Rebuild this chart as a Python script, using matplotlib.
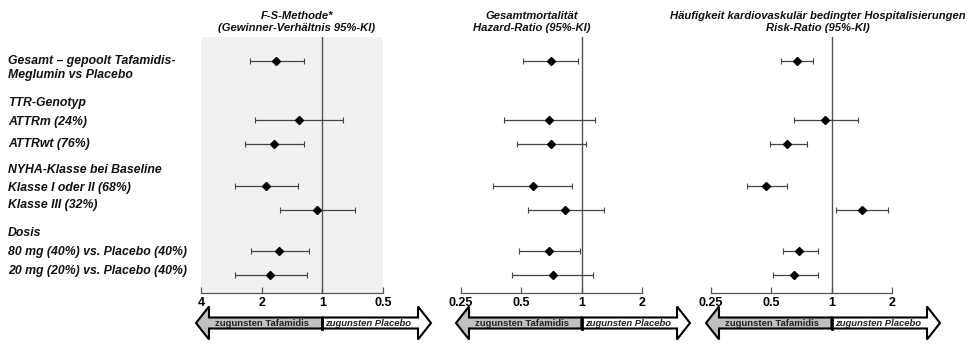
"""Forest plot: Tafamidis subgroup analysis, three panels (win ratio, HR, RR)."""
import matplotlib
matplotlib.use("Agg")
import matplotlib.pyplot as plt
from matplotlib.patches import Polygon

plt.rcParams["font.family"] = ["Liberation Sans", "DejaVu Sans"]

# --- data -----------------------------------------------------------------
row_labels = [
    "Gesamt \u2013 gepoolt Tafamidis-\nMeglumin vs Placebo",
    "ATTRm (24%)",
    "ATTRwt (76%)",
    "Klasse I oder II (68%)",
    "Klasse III (32%)",
    "80 mg (40%) vs. Placebo (40%)",
    "20 mg (20%) vs. Placebo (40%)",
]
group_headers = ["TTR-Genotyp", "NYHA-Klasse bei Baseline", "Dosis"]

fs_est = [1.70, 1.30, 1.73, 1.90, 1.06, 1.64, 1.81]
fs_lo = [1.24, 0.79, 1.24, 1.32, 0.69, 1.17, 1.19]
fs_hi = [2.28, 2.15, 2.42, 2.71, 1.62, 2.25, 2.71]

hr_est = [0.70, 0.69, 0.70, 0.57, 0.83, 0.69, 0.72]
hr_lo = [0.51, 0.41, 0.475, 0.36, 0.54, 0.485, 0.45]
hr_hi = [0.955, 1.16, 1.05, 0.90, 1.29, 0.98, 1.14]

rr_est = [0.67, 0.93, 0.60, 0.47, 1.41, 0.69, 0.65]
rr_lo = [0.56, 0.65, 0.49, 0.38, 1.05, 0.57, 0.51]
rr_hi = [0.81, 1.35, 0.75, 0.60, 1.92, 0.85, 0.85]

panel_titles = [
    "F-S-Methode*\n(Gewinner-Verh\u00e4ltnis 95%-KI)",
    "Gesamtmortalit\u00e4t\nHazard-Ratio (95%-KI)",
    "H\u00e4ufigkeit kardiovaskul\u00e4r bedingter Hospitalisierungen\nRisk-Ratio (95%-KI)",
]
fs_ticks = [4, 2, 1, 0.5]
ratio_ticks = [0.25, 0.5, 1, 2]
tick_labels_fs = ["4", "2", "1", "0.5"]
tick_labels_ratio = ["0.25", "0.5", "1", "2"]

# --- layout (pixels) --------------------------------------------------------
W, H = 976, 360
row_y = [61, 120, 144, 186, 210, 251, 275]
label_y = [68, 122, 144, 188, 205, 252, 271]
header_y = [103, 170, 233]
ax_top, ax_bot = 37, 293
panels = [
    dict(left=201, right=383, est=fs_est, lo=fs_lo, hi=fs_hi, xlim=(4, 0.5),
         ticks=fs_ticks, labels=tick_labels_fs, shade=True, title_x=297),
    dict(left=461, right=642, est=hr_est, lo=hr_lo, hi=hr_hi, xlim=(0.25, 2),
         ticks=ratio_ticks, labels=tick_labels_ratio, shade=False, title_x=532),
    dict(left=711, right=892, est=rr_est, lo=rr_lo, hi=rr_hi, xlim=(0.25, 2),
         ticks=ratio_ticks, labels=tick_labels_ratio, shade=False, title_x=818),
]

fig = plt.figure(figsize=(W / 100, H / 100), dpi=100)
overlay = fig.add_axes([0, 0, 1, 1])
overlay.set_xlim(0, W)
overlay.set_ylim(H, 0)
overlay.axis("off")

txt = dict(fontsize=8.8, fontweight="bold", style="italic", color="#111111")
for lab, y in zip(row_labels, label_y):
    overlay.text(8, y, lab, va="center", ha="left", linespacing=1.3, **txt)
for lab, y in zip(group_headers, header_y):
    overlay.text(8, y, lab, va="center", ha="left", **txt)

for i, p in enumerate(panels):
    ax = fig.add_axes([p["left"] / W, 1 - ax_bot / H,
                       (p["right"] - p["left"]) / W, (ax_bot - ax_top) / H])
    ax.set_xscale("log", base=2)
    ax.set_xlim(*p["xlim"])
    ax.set_ylim(ax_bot, ax_top)
    ax.set_facecolor("#f1f1f1" if p["shade"] else "none")
    for s in ("top", "left", "right"):
        ax.spines[s].set_visible(False)
    ax.spines["bottom"].set_color("#555555")
    ax.spines["bottom"].set_linewidth(0.9)
    ax.set_yticks([])
    ax.set_xticks(p["ticks"])
    ax.set_xticklabels(p["labels"])
    ax.xaxis.set_minor_locator(plt.NullLocator())
    ax.tick_params(axis="x", direction="in", length=4, width=0.9, color="#555555",
                   pad=3, labelsize=9)
    for t in ax.get_xticklabels():
        t.set_fontweight("bold")
    ax.axvline(1, color="#555555", lw=1.0, zorder=1)

    est, lo, hi = p["est"], p["lo"], p["hi"]
    xerr = [[e - l for e, l in zip(est, lo)], [h - e for e, h in zip(est, hi)]]
    ax.errorbar(est, row_y, xerr=xerr, fmt="D", color="black", ms=4.5,
                ecolor="#444444", elinewidth=0.9, capsize=2.2, capthick=0.8, zorder=3)

    # title
    overlay.text(p["title_x"], 22, panel_titles[i], ha="center", va="center",
                 fontsize=8.1, fontweight="bold", style="italic", linespacing=1.15,
                 color="#111111")

    # double arrow under the axis
    split = ax.transData.transform((1, 0))[0]
    split = split * W / fig.bbox.width
    x0, x1 = p["left"] - 5, p["right"] + 48
    hl = 13
    yc, sh, hh = 323, 5.5, 16.5
    left_poly = [(x0, yc), (x0 + hl, yc - hh), (x0 + hl, yc - sh), (split, yc - sh),
                 (split, yc + sh), (x0 + hl, yc + sh), (x0 + hl, yc + hh)]
    right_poly = [(x1, yc), (x1 - hl, yc - hh), (x1 - hl, yc - sh), (split, yc - sh),
                  (split, yc + sh), (x1 - hl, yc + sh), (x1 - hl, yc + hh)]
    overlay.add_patch(Polygon(left_poly, closed=True, facecolor="#c0c0c0",
                              edgecolor="black", lw=1.5, joinstyle="miter"))
    overlay.add_patch(Polygon(right_poly, closed=True, facecolor="white",
                              edgecolor="black", lw=1.5, joinstyle="miter"))
    overlay.plot([split, split], [yc - sh, yc + sh], color="black", lw=2)
    overlay.text(x0 + hl + 6, yc + 0.5, "zugunsten Tafamidis", ha="left", va="center",
                 fontsize=6.8, fontweight="bold", color="#222222")
    overlay.text(split + 3, yc + 0.5, "zugunsten Placebo", ha="left", va="center",
                 fontsize=6.8, fontweight="bold", style="italic", color="#222222")

fig.savefig("out.png", dpi=100)
